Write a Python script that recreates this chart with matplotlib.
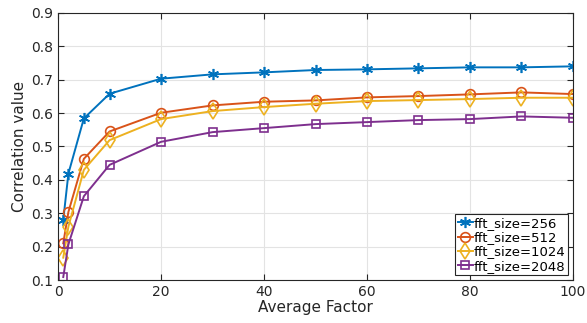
import matplotlib
matplotlib.use("Agg")
import matplotlib.pyplot as plt

# average factor values
avg_factor = [1, 2, 5, 10, 20, 30, 40, 50, 60, 70, 80, 90, 100]

corr_256 = [0.280, 0.419, 0.584, 0.658, 0.703, 0.716, 0.722, 0.729, 0.731, 0.734, 0.737, 0.737, 0.740]
corr_512 = [0.210, 0.304, 0.463, 0.545, 0.601, 0.623, 0.634, 0.638, 0.647, 0.651, 0.656, 0.662, 0.657]
corr_1024 = [0.167, 0.260, 0.430, 0.519, 0.582, 0.606, 0.618, 0.628, 0.636, 0.639, 0.642, 0.646, 0.646]
corr_2048 = [0.109, 0.207, 0.351, 0.445, 0.514, 0.543, 0.555, 0.567, 0.573, 0.579, 0.582, 0.590, 0.586]

labels = ["fft_size=256", "fft_size=512", "fft_size=1024", "fft_size=2048"]
colors = ["#0072BD", "#D95319", "#EDB120", "#7E2F8E"]
markers = [(6, 2, 0), "o", "d", "s"]
sizes = [8, 7, 8, 6]

fig = plt.figure(figsize=(5.87, 3.23), dpi=100)
ax = fig.add_axes([0.099, 0.133, 0.877, 0.827])

series = [corr_256, corr_512, corr_1024, corr_2048]
for vals, lab, col, mk, ms in zip(series, labels, colors, markers, sizes):
    ax.plot(avg_factor, vals, color=col, marker=mk, markersize=ms, linewidth=1.4,
            markerfacecolor="none", markeredgewidth=1.2, label=lab)

ax.set_xlim(0, 100)
ax.set_ylim(0.1, 0.9)
ax.set_xticks([0, 20, 40, 60, 80, 100])
ax.set_yticks([0.1, 0.2, 0.3, 0.4, 0.5, 0.6, 0.7, 0.8, 0.9])
ax.grid(True, color="#e3e3e3", linewidth=0.8)
ax.set_axisbelow(True)
ax.tick_params(direction="in", length=4, labelsize=10, colors="#262626",
               top=True, right=True)
for s in ax.spines.values():
    s.set_color("#262626")
    s.set_linewidth(0.8)
ax.set_xlabel("Average Factor", fontsize=11, color="#262626", labelpad=1)
ax.set_ylabel("Correlation value", fontsize=11, color="#262626", labelpad=3)

leg = ax.legend(loc="lower right", fontsize=9.5, handlelength=1.1, handletextpad=0.1,
                borderpad=0.2, labelspacing=0.1, borderaxespad=0.35,
                fancybox=False, framealpha=1)
leg.get_frame().set_edgecolor("#262626")
leg.get_frame().set_linewidth(0.8)

fig.savefig("out.png", dpi=100)
